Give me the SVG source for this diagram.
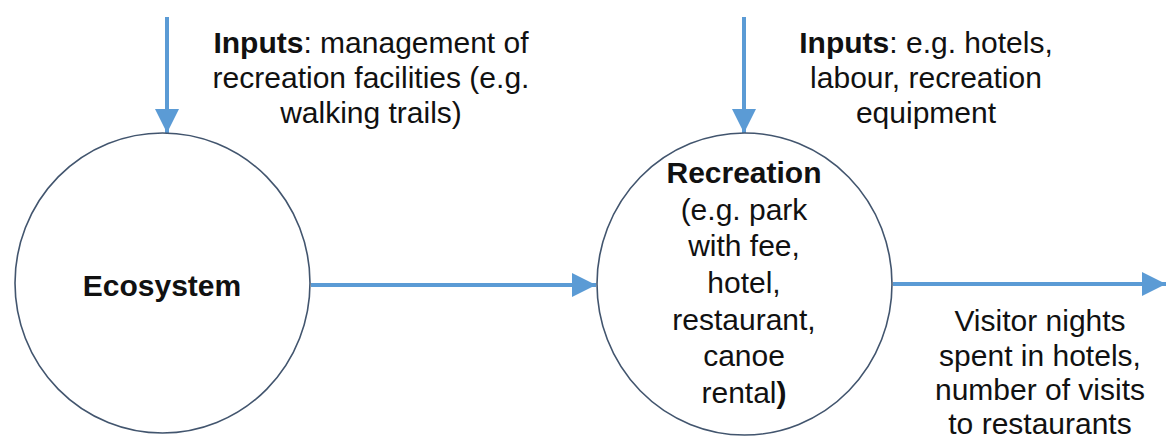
<svg xmlns="http://www.w3.org/2000/svg" width="1166" height="442" viewBox="0 0 1166 442">
<style>
.node{fill:#fff;stroke:#42556e;stroke-width:1.6}
.conn{stroke:#5b9bd5;stroke-width:4;fill:none}
text{font-family:"Liberation Sans",Arial,sans-serif;font-size:30px;fill:#111;text-anchor:middle}
.b{font-weight:bold}
</style>
<defs>
<marker id="ah" markerUnits="userSpaceOnUse" markerWidth="24" markerHeight="24" viewBox="0 0 22 22" refX="22" refY="11" orient="auto">
<path d="M0,0 L22,11 L0,22 Z" fill="#5b9bd5"/>
</marker>
</defs>
<rect width="1166" height="442" fill="#fff"/>
<g id="connectors">
<line class="conn" x1="167" y1="17" x2="167" y2="133" marker-end="url(#ah)"/>
<line class="conn" x1="744" y1="17" x2="744" y2="133" marker-end="url(#ah)"/>
<line class="conn" x1="311" y1="285" x2="596" y2="285" marker-end="url(#ah)"/>
<line class="conn" x1="893" y1="284" x2="1166" y2="284" marker-end="url(#ah)"/>
</g>
<g id="ecosystem">
<ellipse class="node" cx="162.5" cy="283" rx="147.5" ry="150"/>
<text x="162" y="296" class="b">Ecosystem</text>
</g>
<g id="recreation">
<ellipse class="node" cx="744.5" cy="284" rx="147.5" ry="151"/>
<text x="744" y="183"><tspan class="b">Recreation</tspan></text>
<text x="744" y="220">(e.g. park</text>
<text x="744" y="256">with fee,</text>
<text x="744" y="293">hotel,</text>
<text x="744" y="330">restaurant,</text>
<text x="744" y="366">canoe</text>
<text x="744" y="403">rental<tspan class="b">)</tspan></text>
</g>
<g id="inputs-ecosystem">
<text x="371" y="53"><tspan class="b">Inputs</tspan>: management of</text>
<text x="371" y="88">recreation facilities (e.g.</text>
<text x="371" y="123">walking trails)</text>
</g>
<g id="inputs-recreation">
<text x="926" y="53"><tspan class="b">Inputs</tspan>: e.g. hotels,</text>
<text x="926" y="88">labour, recreation</text>
<text x="926" y="123">equipment</text>
</g>
<g id="output-label">
<text x="1040" y="331">Visitor nights</text>
<text x="1040" y="366">spent in hotels,</text>
<text x="1040" y="400">number of visits</text>
<text x="1040" y="434">to restaurants</text>
</g>
</svg>
